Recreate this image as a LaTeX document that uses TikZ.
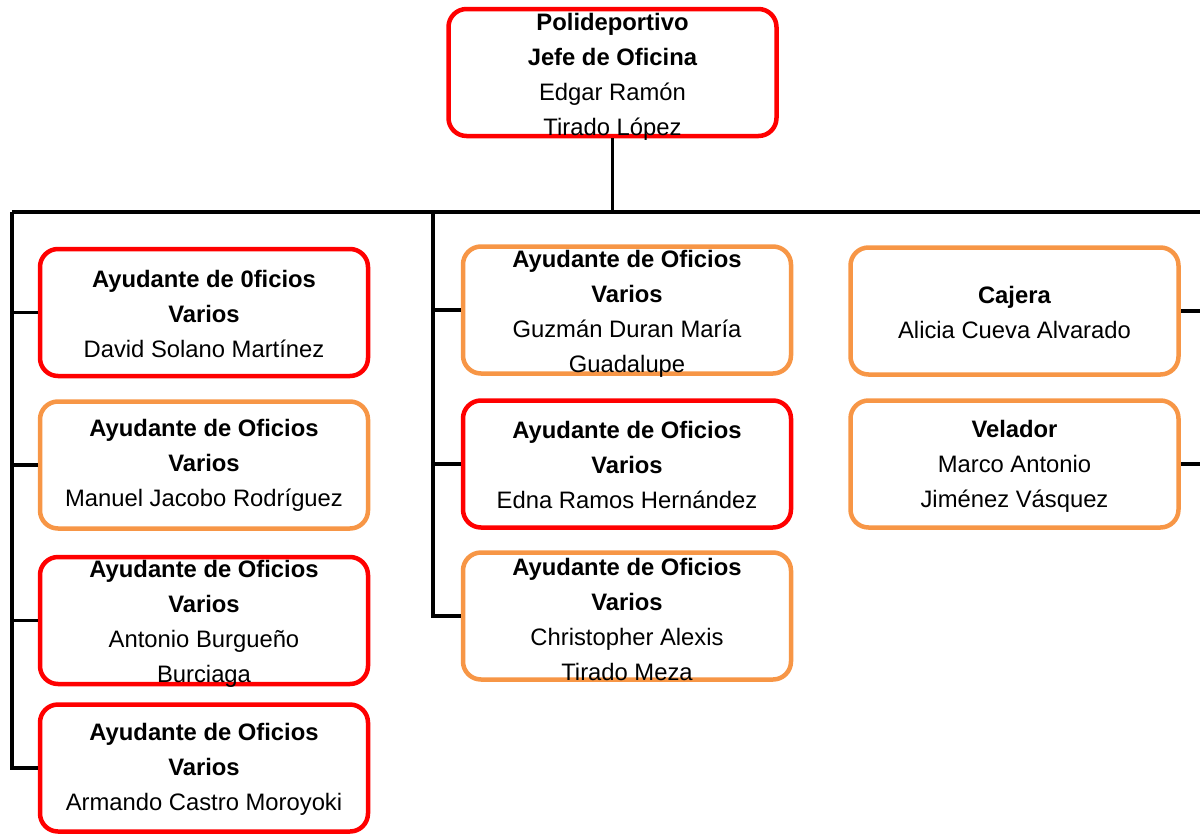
\documentclass[tikz,border=0pt]{standalone}
\usepackage{fontspec}
\setmainfont{Liberation Sans}
\usepackage{tikz}
\usetikzlibrary{calc}

\definecolor{rojo}{RGB}{255,0,0}
\definecolor{naranja}{RGB}{247,150,70}

\begin{document}
\begin{tikzpicture}
[x=0.5pt,y=-0.5pt,
  boxdecorate/.style={draw,line width=2.25pt,rounded corners=9pt,fill=white,
    minimum width=164pt,minimum height=63.5pt,inner sep=0pt},%
  textdecorate/.style={align=center,inner sep=0pt,
    font=\fontsize{11.9}{17.5}\selectfont},%
  linedecorate/.style={-,line width=1.75pt}]
\useasboundingbox (0,0) rectangle (1200,836);
%% boxes of the chart
\foreach \nodename/\x/\y/\dy/\colour/\content in {
  jefe/612.5/72.5/4/rojo/{\textbf{Polideportivo}\\\textbf{Jefe de Oficina}\\Edgar Ramón\\Tirado López},
  ayuA/204/312.5/1/rojo/{\textbf{Ayudante de 0ficios}\\\textbf{Varios}\\David Solano Martínez},
  ayuB/204/465/0/naranja/{\textbf{Ayudante de Oficios}\\\textbf{Varios}\\Manuel Jacobo Rodríguez},
  ayuC/204/620.5/3.5/rojo/{\textbf{Ayudante de Oficios}\\\textbf{Varios}\\Antonio Burgueño\\Burciaga},
  ayuD/204/768/1/rojo/{\textbf{Ayudante de Oficios}\\\textbf{Varios}\\Armando Castro Moroyoki},
  ayuE/627/310/3.5/naranja/{\textbf{Ayudante de Oficios}\\\textbf{Varios}\\Guzmán Duran María\\Guadalupe},
  ayuF/627/464/1/rojo/{\textbf{Ayudante de Oficios}\\\textbf{Varios}\\Edna Ramos Hernández},
  ayuG/627/616/3.5/naranja/{\textbf{Ayudante de Oficios}\\\textbf{Varios}\\Christopher Alexis\\Tirado Meza},
  cajera/1014.5/311/1/naranja/{\textbf{Cajera}\\Alicia Cueva Alvarado},
  velador/1014.5/464/2/naranja/{\textbf{Velador}\\Marco Antonio\\Jiménez Vásquez}}
{
  \node (\nodename) at (\x,\y) [boxdecorate,draw=\colour] {};
  \node (\nodename-txt) at ($(\nodename.center)+(0,\dy)$) [textdecorate] {\content};
}
%% bus and trunks
\coordinate (busL) at (12,212);
\coordinate (busM) at (433,212);
\coordinate (busR) at (1202,212);
\draw[linedecorate] (jefe.south) -- (jefe.south |- busL);
\draw[linedecorate] (busL) -- (busR);
\draw[linedecorate] (busL) |- (ayuD.west);
\draw[linedecorate] (busM) |- (ayuG.west);
\draw[linedecorate] (busR) |- (velador.east);
%% branches
\foreach \nodename in {ayuA, ayuB, ayuC}
  \draw[linedecorate] (busL |- \nodename.west) -- (\nodename.west);
\foreach \nodename in {ayuE, ayuF}
  \draw[linedecorate] (busM |- \nodename.west) -- (\nodename.west);
\draw[linedecorate] (busR |- cajera.east) -- (cajera.east);
\end{tikzpicture}
\end{document}
